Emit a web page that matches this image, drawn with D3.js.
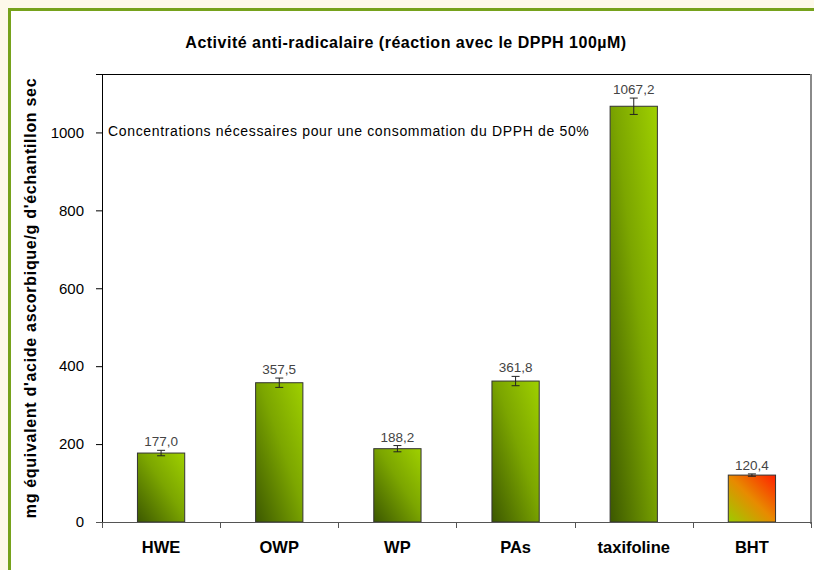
<!DOCTYPE html>
<html>

<head>
    <meta charset="utf-8">
    <style type="text/css">
        body {
            margin: 0;
            background-color: #fdf9ea;
        }

        text {
            font-family: "Liberation Sans", Arial, sans-serif;
        }
    </style>
</head>

<body>
    <svg width="814" height="570"></svg>
    <script src="https://d3js.org/d3.v7.min.js"></script>
    <script>

        // data
        var categories = ["HWE", "OWP", "WP", "PAs", "taxifoline", "BHT"];
        var values = [177.0, 357.5, 188.2, 361.8, 1067.2, 120.4];
        var errors = [7, 12, 8, 12, 21, 3];
        var valueLabels = ["177,0", "357,5", "188,2", "361,8", "1067,2", "120,4"];
        var yTicks = [0, 200, 400, 600, 800, 1000];

        var svg = d3.select("svg"),
            margin = {
                top: 74,
                right: 3,
                bottom: 48,
                left: 102
            },
            width = 814 - margin.left - margin.right,
            height = 570 - margin.top - margin.bottom;

        // framed panel
        svg.append("rect").attr("x", 0).attr("y", 0).attr("width", 814).attr("height", 570).attr("fill", "#fdf9ea");
        svg.append("rect").attr("x", 9.5).attr("y", 9.5).attr("width", 830).attr("height", 600)
            .attr("fill", "#ffffff").attr("stroke", "#76a21c").attr("stroke-width", 3);

        var defs = svg.append("defs");
        var gGreen = defs.append("linearGradient").attr("id", "green")
            .attr("x1", 0).attr("y1", 1).attr("x2", 1).attr("y2", 0);
        gGreen.append("stop").attr("offset", "0%").attr("stop-color", "#3c5800");
        gGreen.append("stop").attr("offset", "55%").attr("stop-color", "#7ca600");
        gGreen.append("stop").attr("offset", "100%").attr("stop-color", "#9fd000");
        var gRed = defs.append("linearGradient").attr("id", "red")
            .attr("x1", 0).attr("y1", 1).attr("x2", 1).attr("y2", 0);
        gRed.append("stop").attr("offset", "0%").attr("stop-color", "#9ccc00");
        gRed.append("stop").attr("offset", "50%").attr("stop-color", "#e88a00");
        gRed.append("stop").attr("offset", "100%").attr("stop-color", "#ff2000");

        var g = svg.append("g").attr("transform", "translate(" + margin.left + "," + margin.top + ")");

        var x = d3.scaleBand().domain(categories).range([0, width]).paddingInner(0.6).paddingOuter(0.3);
        var y = d3.scaleLinear().domain([0, 1150]).range([height, 0]);

        // plot area border: top black, right grey shadow
        g.append("line").attr("x1", 0).attr("x2", width).attr("y1", 0.5).attr("y2", 0.5).attr("stroke", "#000");
        g.append("line").attr("x1", width).attr("x2", width).attr("y1", 0).attr("y2", height + 2)
            .attr("stroke", "#8a8a8a").attr("stroke-width", 2);

        // title
        svg.append("text").attr("x", 406).attr("y", 48).attr("text-anchor", "middle")
            .style("font-size", "16px").style("font-weight", "bold").style("letter-spacing", "0.5px")
            .text("Activité anti-radicalaire (réaction avec le DPPH 100µM)");

        // y axis
        var yAxis = g.append("g").call(d3.axisLeft(y).tickValues(yTicks).tickFormat(d3.format("d")).tickSize(6).tickPadding(12));
        yAxis.select(".domain").attr("stroke", "#000");
        yAxis.selectAll("text").style("font-size", "15px").attr("fill", "#000");

        svg.append("text").attr("transform", "translate(36," + (margin.top + height / 2) + ") rotate(-90)")
            .attr("text-anchor", "middle").style("font-size", "16px").style("font-weight", "bold")
            .style("letter-spacing", "0.7px")
            .text("mg équivalent d'acide ascorbique/g d'échantillon sec");

        // annotation
        g.append("text").attr("x", 6).attr("y", 62).style("font-size", "14px").style("letter-spacing", "0.65px")
            .text("Concentrations nécessaires pour une consommation du DPPH de 50%");

        // bars
        g.selectAll(".bar").data(categories).enter().append("rect")
            .attr("class", "bar")
            .attr("x", function (d) { return x(d); })
            .attr("y", function (d, i) { return y(values[i]); })
            .attr("width", x.bandwidth())
            .attr("height", function (d, i) { return height - y(values[i]); })
            .attr("fill", function (d) { return d == "BHT" ? "url(#red)" : "url(#green)"; })
            .attr("stroke", "#333").attr("stroke-width", 1);

        // error bars
        var eb = g.selectAll(".err").data(categories).enter().append("g").attr("class", "err")
            .attr("transform", function (d) { return "translate(" + (x(d) + x.bandwidth() / 2) + ",0)"; });
        eb.append("line").attr("x1", 0).attr("x2", 0)
            .attr("y1", function (d, i) { return y(values[i] + errors[i]); })
            .attr("y2", function (d, i) { return y(values[i] - errors[i]); })
            .attr("stroke", "#222");
        eb.append("line").attr("x1", -4).attr("x2", 4)
            .attr("y1", function (d, i) { return y(values[i] + errors[i]); })
            .attr("y2", function (d, i) { return y(values[i] + errors[i]); })
            .attr("stroke", "#222");
        eb.append("line").attr("x1", -4).attr("x2", 4)
            .attr("y1", function (d, i) { return y(values[i] - errors[i]); })
            .attr("y2", function (d, i) { return y(values[i] - errors[i]); })
            .attr("stroke", "#222");

        // value labels
        g.selectAll(".val").data(categories).enter().append("text")
            .attr("x", function (d) { return x(d) + x.bandwidth() / 2; })
            .attr("y", function (d, i) { return y(values[i] + errors[i]) - 4; })
            .attr("text-anchor", "middle").style("font-size", "13.5px").attr("fill", "#444")
            .text(function (d, i) { return valueLabels[i]; });

        // x axis
        g.append("line").attr("x1", -6).attr("x2", width).attr("y1", height + 0.5).attr("y2", height + 0.5)
            .attr("stroke", "#555");
        var bounds = [0].concat(categories.map(function (d) { return x(d) + x.bandwidth() / 2 + x.step() / 2; }));
        g.selectAll(".xt").data(bounds).enter().append("line")
            .attr("x1", function (d) { return Math.round(d) + 0.5; })
            .attr("x2", function (d) { return Math.round(d) + 0.5; })
            .attr("y1", height).attr("y2", height + 6).attr("stroke", "#555");
        g.selectAll(".xl").data(categories).enter().append("text")
            .attr("x", function (d) { return x(d) + x.bandwidth() / 2; })
            .attr("y", height + 31)
            .attr("text-anchor", "middle").style("font-size", "16.5px").style("font-weight", "bold")
            .text(function (d) { return d; });

    </script>
</body>

</html>
